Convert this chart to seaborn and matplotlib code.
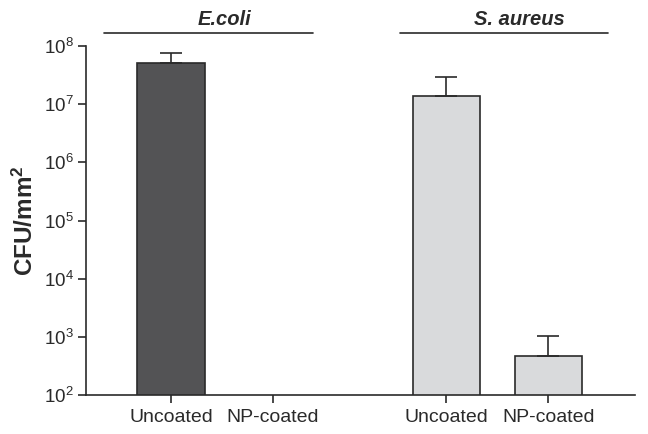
import numpy as np
import pandas as pd
import matplotlib
matplotlib.use("Agg")
import matplotlib.pyplot as plt
import matplotlib.transforms as mtransforms
from matplotlib.ticker import FixedLocator, LogFormatterSciNotation, NullLocator
import seaborn as sns

# ---- data ----
categories = ["Uncoated", "NP-coated", "Uncoated", "NP-coated"]
groups = ["E.coli", "E.coli", "S. aureus", "S. aureus"]
positions = [0.0, 1.0, 2.7, 3.7]
means = [5.2e7, np.nan, 1.4e7, 470.0]
upper = [7.7e7, np.nan, 2.9e7, 1030.0]
y_ticks = [1e2, 1e3, 1e4, 1e5, 1e6, 1e7, 1e8]
group_names = ["E.coli", "S. aureus"]
group_colors = {"E.coli": "#535355", "S. aureus": "#d9dadc"}

sns.set_style("ticks")
plt.rcParams["font.family"] = ["Liberation Sans", "DejaVu Sans"]
plt.rcParams["mathtext.fontset"] = "custom"
plt.rcParams["mathtext.rm"] = "Liberation Sans"
plt.rcParams["mathtext.it"] = "Liberation Sans:italic"
plt.rcParams["mathtext.bf"] = "Liberation Sans:bold"

df = pd.DataFrame({"pos": positions, "cat": categories, "group": groups,
                   "mean": means, "upper": upper})

fig = plt.figure(figsize=(6.48, 4.34), dpi=100)
ax = fig.add_axes([86 / 648, 1 - 395 / 434, (635 - 86) / 648, (395 - 46) / 434])
ax.set_yscale("log")

d = df.dropna()
sns.barplot(data=d, x="pos", y="mean", hue="group", palette=group_colors,
            native_scale=True, dodge=False, width=0.66, edgecolor="#2a2a2a",
            linewidth=1.2, legend=False, errorbar=None, ax=ax)

ax.errorbar(d["pos"], d["mean"], yerr=[np.zeros(len(d)), d["upper"] - d["mean"]],
            fmt="none", ecolor="#2a2a2a", elinewidth=1.2, capsize=8, capthick=1.2)

ax.set_ylim(1e2, 1e8)
ax.set_xlim(-0.833, 4.55)
ax.yaxis.set_major_locator(FixedLocator(y_ticks))
ax.yaxis.set_minor_locator(NullLocator())
ax.yaxis.set_major_formatter(LogFormatterSciNotation())
ax.set_xticks(positions)
ax.set_xticklabels(categories)
ax.tick_params(axis="both", length=6, width=1.2, color="#2a2a2a",
               labelcolor="#2a2a2a")
ax.tick_params(axis="x", labelsize=14, pad=4)
ax.tick_params(axis="y", labelsize=13.5, pad=3)
for s in ["top", "right"]:
    ax.spines[s].set_visible(False)
for s in ["left", "bottom"]:
    ax.spines[s].set_linewidth(1.2)
    ax.spines[s].set_color("#2a2a2a")
ax.set_xlabel("")
ax.xaxis.label.set_visible(False)
ax.set_ylabel("CFU/mm$^\\mathbf{2}$", fontsize=17.5, fontweight="bold", color="#2a2a2a",
              labelpad=4)

# group headers
trans = mtransforms.blended_transform_factory(ax.transData, ax.transAxes)
group_spans = [(-0.66, 1.39), (2.245, 4.29)]
group_text_x = [0.53, 3.42]
for name, (x0, x1), tx in zip(group_names, group_spans, group_text_x):
    ax.plot([x0, x1], [1.037, 1.037], color="#2a2a2a", lw=1.2, transform=trans,
            clip_on=False)
    ax.text(tx, 1.077, name, transform=trans, ha="center", va="center",
            fontsize=14.5, fontweight="bold", fontstyle="italic", color="#2a2a2a")

fig.savefig("out.png", dpi=100)
